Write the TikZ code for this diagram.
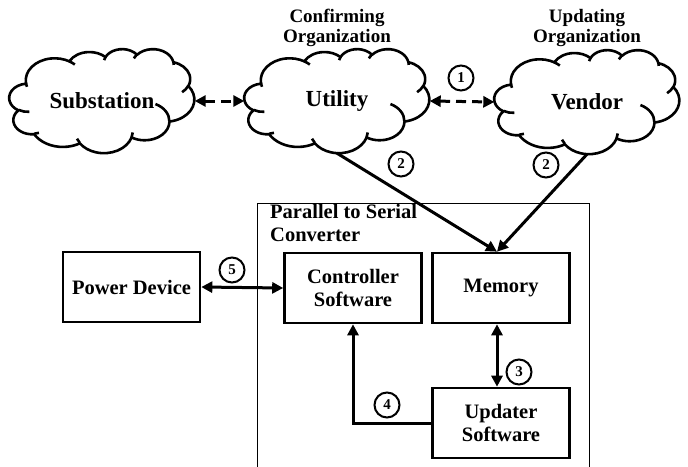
\documentclass[tikz,border=0pt]{standalone}
\usepackage{fontspec}
\setmainfont{Liberation Serif}
\usetikzlibrary{arrows.meta,calc}

% parametric angle of the ellipse point seen at polar angle #3 (radii #1, #2)
\pgfmathdeclarefunction{vispar}{3}{%
  \begingroup
  \pgfmathparse{atan2(#1*sin(#3), #2*cos(#3)) - #3}%
  \pgfmathparse{mod(\pgfmathresult+540,360) - 180 + #3}%
  \pgfmathsmuggle\pgfmathresult
  \endgroup}

% elliptic arc: radii #1, #2, start angle #3, sweep #4 (polar angles)
\newcommand\carc[4]{%
  \pgfextra{\pgfmathsetmacro\cloudS{vispar(#1,#2,#3)}%
            \pgfmathsetmacro\cloudE{vispar(#1,#2,#3+#4)}}
  arc[start angle=\cloudS, end angle=\cloudE, x radius=#1, y radius=#2]}

% cloud outline with its inner folds, in a 432 x 432 box (y downwards)
\newcommand\cloudoutline{%
  \draw[cloudline] (39.00,143.70)
    \carc{67.53}{91.90}{-190.4875}{123.7805}
    \carc{53.33}{72.67}{-144.1024}{89.9452}
    \carc{43.65}{59.45}{-145.8079}{99.7230}
    \carc{48.57}{65.95}{-130.9861}{117.2417}
    \carc{53.33}{72.73}{-78.7089}{109.0269}
    \carc{67.75}{92.20}{-46.2673}{130.2690}
    \carc{57.85}{78.67}{0.6250}{114.0333}
    \carc{67.52}{92.15}{22.4516}{115.1726}
    \carc{77.20}{105.43}{66.2426}{75.7110}
    \carc{43.60}{59.18}{-274.9421}{146.7356}
    \carc{43.45}{59.45}{-246.8285}{152.5189}
    -- cycle;
  \draw[cloudline]
    (46.93,261.77) \carc{43.45}{59.45}{86.742}{26.4295}
    (69.28,348.99) \carc{43.60}{59.18}{73.6105}{11.4475}
    (164.78,390.90) \carc{67.52}{92.15}{137.6242}{14.0811}
    (288.27,347.51) \carc{67.52}{92.15}{6.4533}{15.9984}
    (341.29,229.54) \carc{57.85}{78.67}{-70.2924}{70.9174}
    (417.98,153.54) \carc{53.33}{72.73}{30.3180}{27.7515}
    (383.24,54.26) \carc{48.57}{65.95}{-13.7443}{14.8589}
    (290.78,39.52) \carc{48.57}{65.95}{-149.1815}{18.1954}
    (221.41,47.20) \carc{43.65}{59.45}{-163.4943}{17.6864}
    (140.00,51.92) \carc{67.53}{91.90}{-66.7070}{12.3194}
    (41.27,157.89) \carc{67.53}{91.90}{157.6544}{11.8582};
}

\begin{document}
\begin{tikzpicture}[x=1pt,y=-1pt,
  cloudline/.style={line width=2.6pt, line join=round},
  cloudbox/.style={minimum width=185pt, minimum height=104pt, inner sep=0pt,
    font=\bfseries\fontsize{23}{25}\selectfont},
  orglabel/.style={font=\bfseries\fontsize{19}{20}\selectfont, align=center},
  blockbox/.style={draw, line width=2.6pt, minimum width=137pt,
    minimum height=70pt, align=center, inner sep=0pt,
    font=\bfseries\fontsize{20.5}{23}\selectfont},
  tag/.style={circle, draw, line width=2pt, minimum size=25pt, inner sep=0pt,
    font=\bfseries\fontsize{15}{15}\selectfont},
  bothway/.style={line width=3pt, {Triangle[length=11pt,width=11pt]}-{Triangle[length=11pt,width=11pt]}},
  oneway/.style={line width=3pt, -{Triangle[length=11pt,width=11pt]}},
  dashway/.style={bothway, dash pattern=on 10pt off 6pt},
]
\useasboundingbox (0,0) rectangle (688,466);

% clouds
\node[cloudbox] (sub)  at (102,101) {Substation};
\node[cloudbox] (util) at (337,101) {Utility};
\node[cloudbox] (vend) at (587,102) {Vendor};
\foreach \c in {sub,util,vend}{
  \begin{scope}[shift={(\c.north west)}, x=0.42824pt, y=-0.24074pt]
    \cloudoutline
  \end{scope}
}

\node[orglabel] (conf) at (337,28) {Confirming\\Organization};
\node[orglabel] (updo) at (587,28) {Updating\\Organization};

% converter enclosure
\draw[line width=1pt] (257,470) -- (257,203) -- (589,203) -- (589,470);
\node[anchor=north west, align=left, inner sep=0pt,
  font=\bfseries\fontsize{20.5}{23}\selectfont] (convlabel) at (270,204) {Parallel to Serial\\Converter};

% blocks
\node[blockbox] (pow)  at (131.5,287) {Power Device};
\node[blockbox] (ctrl) at (353,288) {Controller\\Software};
\node[blockbox] (mem)  at (501,288) {Memory};
\node[blockbox] (upd)  at (501,423) {Updater\\Software};

% connectors
\draw[dashway] (sub.east) -- (util.west);
\draw[dashway] (util.east) -- (vend.west);
\draw[oneway] (util.south) -- ($(mem.north)+(-4,0)$);
\draw[oneway] (vend.south) -- ($(mem.north)+(-4,0)$);
\draw[bothway] ($(mem.south)+(-4,0)$) -- ($(upd.north)+(-4,0)$);
\draw[oneway] (upd.west) -- (upd.west -| ctrl.south) -- (ctrl.south);
\draw[bothway] (pow.east) -- (ctrl.west);

% step numbers
\node[tag] (n1)  at (461,78)  {1};
\node[tag] (n2a) at (401,164) {2};
\node[tag] (n2b) at (546,165) {2};
\node[tag] (n3)  at (519,372) {3};
\node[tag] (n4)  at (387,405) {4};
\node[tag] (n5)  at (232,270) {5};
\end{tikzpicture}
\end{document}
